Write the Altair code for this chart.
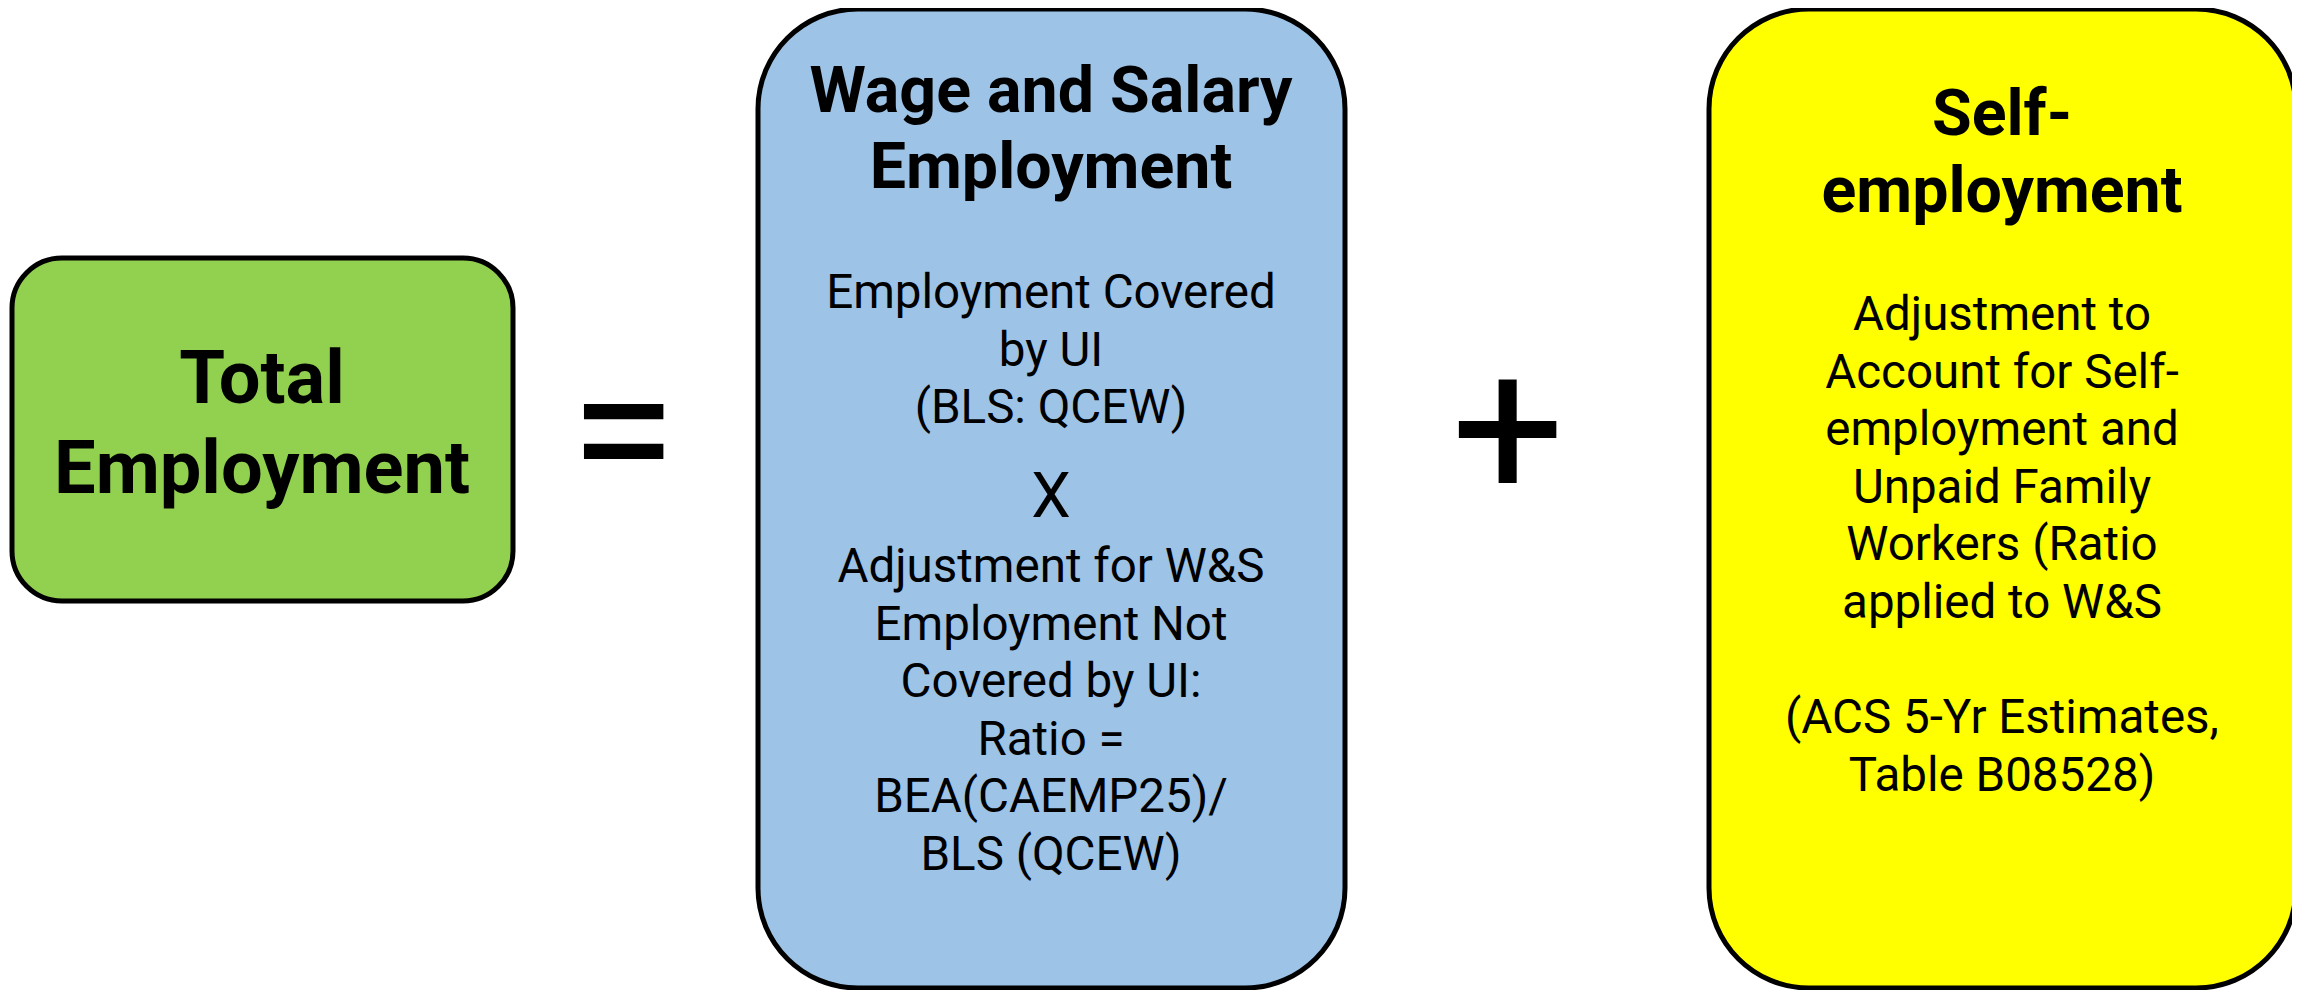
import altair as alt
import pandas as pd

# ---- diagram content -------------------------------------------------------
box_names = ["Total Employment", "Wage and Salary Employment", "Self-employment"]
box_left = [12, 758, 1709]
box_right = [513, 1345, 2296]
box_top = [258, 9, 9]
box_bottom = [601, 988, 988]
box_fill = ["#92D050", "#9DC3E6", "#FFFF00"]

title_lines = [["Total", "Employment"],
               ["Wage and Salary", "Employment"],
               ["Self-", "employment"]]
title_center_x = [262, 1051, 2002]
title_first_baseline = [403, 112, 135]

body_blocks = [
    ["Employment Covered", "by UI", "(BLS: QCEW)"],
    ["Adjustment for W&S", "Employment Not", "Covered by UI:", "Ratio =",
     "BEA(CAEMP25)/", "BLS (QCEW)"],
    ["Adjustment to", "Account for Self-", "employment and", "Unpaid Family",
     "Workers (Ratio", "applied to W&S", "", "(ACS 5-Yr Estimates,",
     "Table B08528)"],
]
body_center_x = [1051, 1051, 2002]
body_first_baseline = [308, 582, 330]

operators = ["=", "X", "+"]
operator_x = [623, 1051, 1508]
operator_baseline = [497, 517, 497]

# ---- styling ---------------------------------------------------------------
W, H = 2284, 982
TITLE_SIZES = [74, 64.5, 64.5]
TITLE_LH = [90, 76, 77]
BODY_SIZE = 47.5
BODY_LH = 57.6
OP_SIZES = [195, 63, 200]
OP_WEIGHTS = ["normal", "normal", "normal"]
FONT = "Roboto"

xs = alt.Scale(domain=[8, 8 + W], nice=False, zero=False)
ys = alt.Scale(domain=[8, 8 + H], nice=False, zero=False, reverse=True)

boxes = pd.DataFrame({"name": box_names, "x0": box_left, "x1": box_right,
                      "y0": box_top, "y1": box_bottom, "fill": box_fill})

rows = []
for i, lines in enumerate(title_lines):
    for j, t in enumerate(lines):
        rows.append({"text": t, "x": title_center_x[i],
                     "y": title_first_baseline[i] + j * TITLE_LH[i], "grp": i})
titles = pd.DataFrame(rows)

rows = []
for i, lines in enumerate(body_blocks):
    for j, t in enumerate(lines):
        rows.append({"text": t, "x": body_center_x[i],
                     "y": body_first_baseline[i] + j * BODY_LH})
body = pd.DataFrame(rows)

ops = pd.DataFrame({"text": operators, "x": operator_x, "y": operator_baseline})


def box_layer(idx, radius):
    return alt.Chart(boxes.iloc[[idx]]).mark_rect(
        cornerRadius=radius, stroke="black", strokeWidth=5
    ).encode(
        x=alt.X("x0:Q", scale=xs, axis=None),
        x2="x1:Q",
        y=alt.Y("y0:Q", scale=ys, axis=None),
        y2="y1:Q",
        fill=alt.Fill("fill:N", scale=None),
    )


layers = [box_layer(0, 50), box_layer(1, 100), box_layer(2, 100)]

for i in range(3):
    layers.append(
        alt.Chart(titles[titles.grp == i]).mark_text(
            font=FONT, fontWeight="bold", fontSize=TITLE_SIZES[i],
            align="center", baseline="alphabetic", color="black"
        ).encode(x=alt.X("x:Q", scale=xs, axis=None),
                 y=alt.Y("y:Q", scale=ys, axis=None), text="text:N")
    )

layers.append(
    alt.Chart(body).mark_text(
        font=FONT, fontSize=BODY_SIZE, align="center",
        baseline="alphabetic", color="black"
    ).encode(x=alt.X("x:Q", scale=xs, axis=None),
             y=alt.Y("y:Q", scale=ys, axis=None), text="text:N")
)

for i in range(3):
    layers.append(
        alt.Chart(ops.iloc[[i]]).mark_text(
            font=FONT, fontSize=OP_SIZES[i], fontWeight=OP_WEIGHTS[i],
            align="center", baseline="alphabetic", color="black"
        ).encode(x=alt.X("x:Q", scale=xs, axis=None),
                 y=alt.Y("y:Q", scale=ys, axis=None), text="text:N")
    )

chart = alt.layer(*layers).properties(
    width=W, height=H, padding=0, autosize="none", background="white"
).configure_view(stroke=None)

chart.save("out.html", embed_options={"renderer": "svg", "actions": False})
